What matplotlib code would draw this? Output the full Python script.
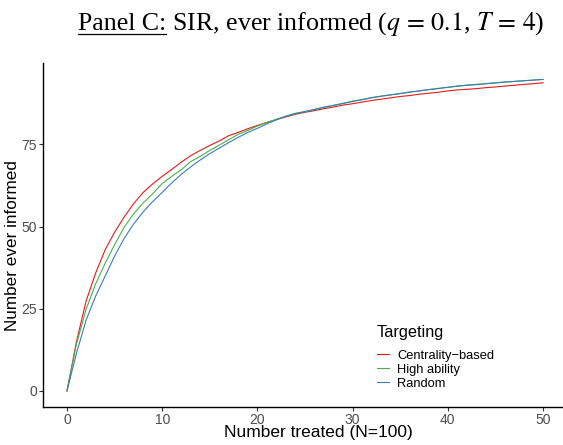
import matplotlib
matplotlib.use("Agg")
import matplotlib.pyplot as plt
from matplotlib.lines import Line2D

# Number of people treated
treated = list(range(0, 51))

centrality = [0.0, 15.0, 27.3, 35.8, 42.9, 48.3, 52.9, 57.0, 60.4, 63.0,
              65.3, 67.4, 69.6, 71.6, 73.2, 74.7, 76.1, 77.7, 78.7, 79.8,
              80.8, 81.7, 82.6, 83.4, 84.2, 84.8, 85.3, 85.9, 86.4, 87.0,
              87.4, 87.9, 88.4, 88.8, 89.2, 89.6, 89.9, 90.3, 90.6, 90.9,
              91.3, 91.6, 91.8, 92.0, 92.3, 92.5, 92.8, 93.0, 93.3, 93.5, 93.8]

high_ability = [0.0, 14.3, 24.8, 32.5, 38.8, 44.5, 49.8, 53.9, 57.2, 60.0,
                63.1, 65.3, 67.3, 69.8, 71.4, 73.2, 74.8, 76.5, 78.1, 79.3,
                80.6, 81.7, 82.7, 83.6, 84.5, 85.0, 85.6, 86.4, 86.9, 87.5,
                88.2, 88.7, 89.3, 89.7, 90.1, 90.5, 91.0, 91.3, 91.7, 92.1,
                92.4, 92.7, 93.1, 93.3, 93.5, 93.8, 94.0, 94.2, 94.4, 94.6, 94.8]

random_target = [0.0, 11.5, 21.5, 28.8, 34.9, 41.0, 46.4, 50.8, 54.5, 57.6,
                 60.4, 63.3, 65.9, 68.2, 70.3, 72.2, 73.9, 75.6, 77.2, 78.7,
                 79.9, 81.3, 82.5, 83.6, 84.4, 85.0, 85.7, 86.3, 86.9, 87.5,
                 88.1, 88.6, 89.2, 89.7, 90.1, 90.5, 90.9, 91.3, 91.7, 92.0,
                 92.4, 92.8, 93.0, 93.2, 93.5, 93.7, 94.0, 94.2, 94.4, 94.6, 94.8]

series_names = ["Centrality\u2212based", "High ability", "Random"]
series_colors = ["#E41A1C", "#4DAF4A", "#377EB8"]
x_ticks = [0, 10, 20, 30, 40, 50]
y_ticks = [0, 25, 50, 75]

W, H = 563, 445
AX_L, AX_R, AX_T, AX_B = 43, 563, 63, 406.5
fig = plt.figure(figsize=(W / 100, H / 100), dpi=100)
ax = fig.add_axes([AX_L / W, (H - AX_B) / H, (AX_R - AX_L) / W, (AX_B - AX_T) / H])

for vals, col in zip([centrality, high_ability, random_target], series_colors):
    ax.plot(treated, vals, color=col, lw=0.8)

ax.set_xlim(-2.52, 52.1)
ax.set_ylim(-4.75, 99.8)
ax.set_xticks(x_ticks)
ax.set_yticks(y_ticks)
for s in ["top", "right"]:
    ax.spines[s].set_visible(False)
for s in ["left", "bottom"]:
    ax.spines[s].set_linewidth(1.0)
    ax.spines[s].set_color("black")
ax.tick_params(axis="both", length=3, width=0.8, color="#333333",
               labelcolor="#4D4D4D", labelsize=10, pad=1.5)
for lab in ax.get_xticklabels() + ax.get_yticklabels():
    lab.set_family("Liberation Sans")

# Axis titles placed in pixel terms
fig.text(318 / W, (H - 433) / H, "Number treated (N=100)", family="Liberation Sans",
         fontsize=12.5, ha="center", va="center")
fig.text(13 / W, (H - 246) / H, "Number ever informed", family="Liberation Sans",
         fontsize=12.3, ha="center", va="center", rotation=90)

# Legend
handles = [Line2D([0], [0], color=c, lw=0.8) for c in series_colors]
leg = fig.legend(handles, series_names, title="Targeting", loc="upper left",
                 bbox_to_anchor=(368 / W, (H - 316) / H), frameon=False,
                 prop={"family": "Liberation Sans", "size": 9.3},
                 handlelength=0.95, handletextpad=0.6, labelspacing=0.15,
                 borderpad=0.2)
leg.get_title().set_family("Liberation Sans")
leg.get_title().set_fontsize(11.7)
leg._legend_box.align = "left"
leg._legend_box.sep = 7

# Title with underlined panel tag
plt.rcParams["mathtext.fontset"] = "stix"
title_kw = dict(family="Liberation Serif", fontsize=18.6, va="baseline")
t1 = fig.text(0, 0, "Panel C:", **title_kw)
t2 = fig.text(0, 0, " SIR, ever informed ($q\\,=\\,0.1$, $T\\,=\\,4$)", **title_kw)
fig.canvas.draw()
r = fig.canvas.get_renderer()
b1 = t1.get_window_extent(r)
b2 = t2.get_window_extent(r)
total = b1.width + b2.width
x0 = 311.5 - total / 2
base_y = H - 29.5
t1.set_position((x0 / W, base_y / H))
t2.set_position(((x0 + b1.width) / W, base_y / H))
fig.add_artist(Line2D([x0 / W, (x0 + b1.width) / W], [(base_y - 4) / H, (base_y - 4) / H],
                      color="black", lw=0.9, transform=fig.transFigure))

fig.savefig("out.png", dpi=100)
